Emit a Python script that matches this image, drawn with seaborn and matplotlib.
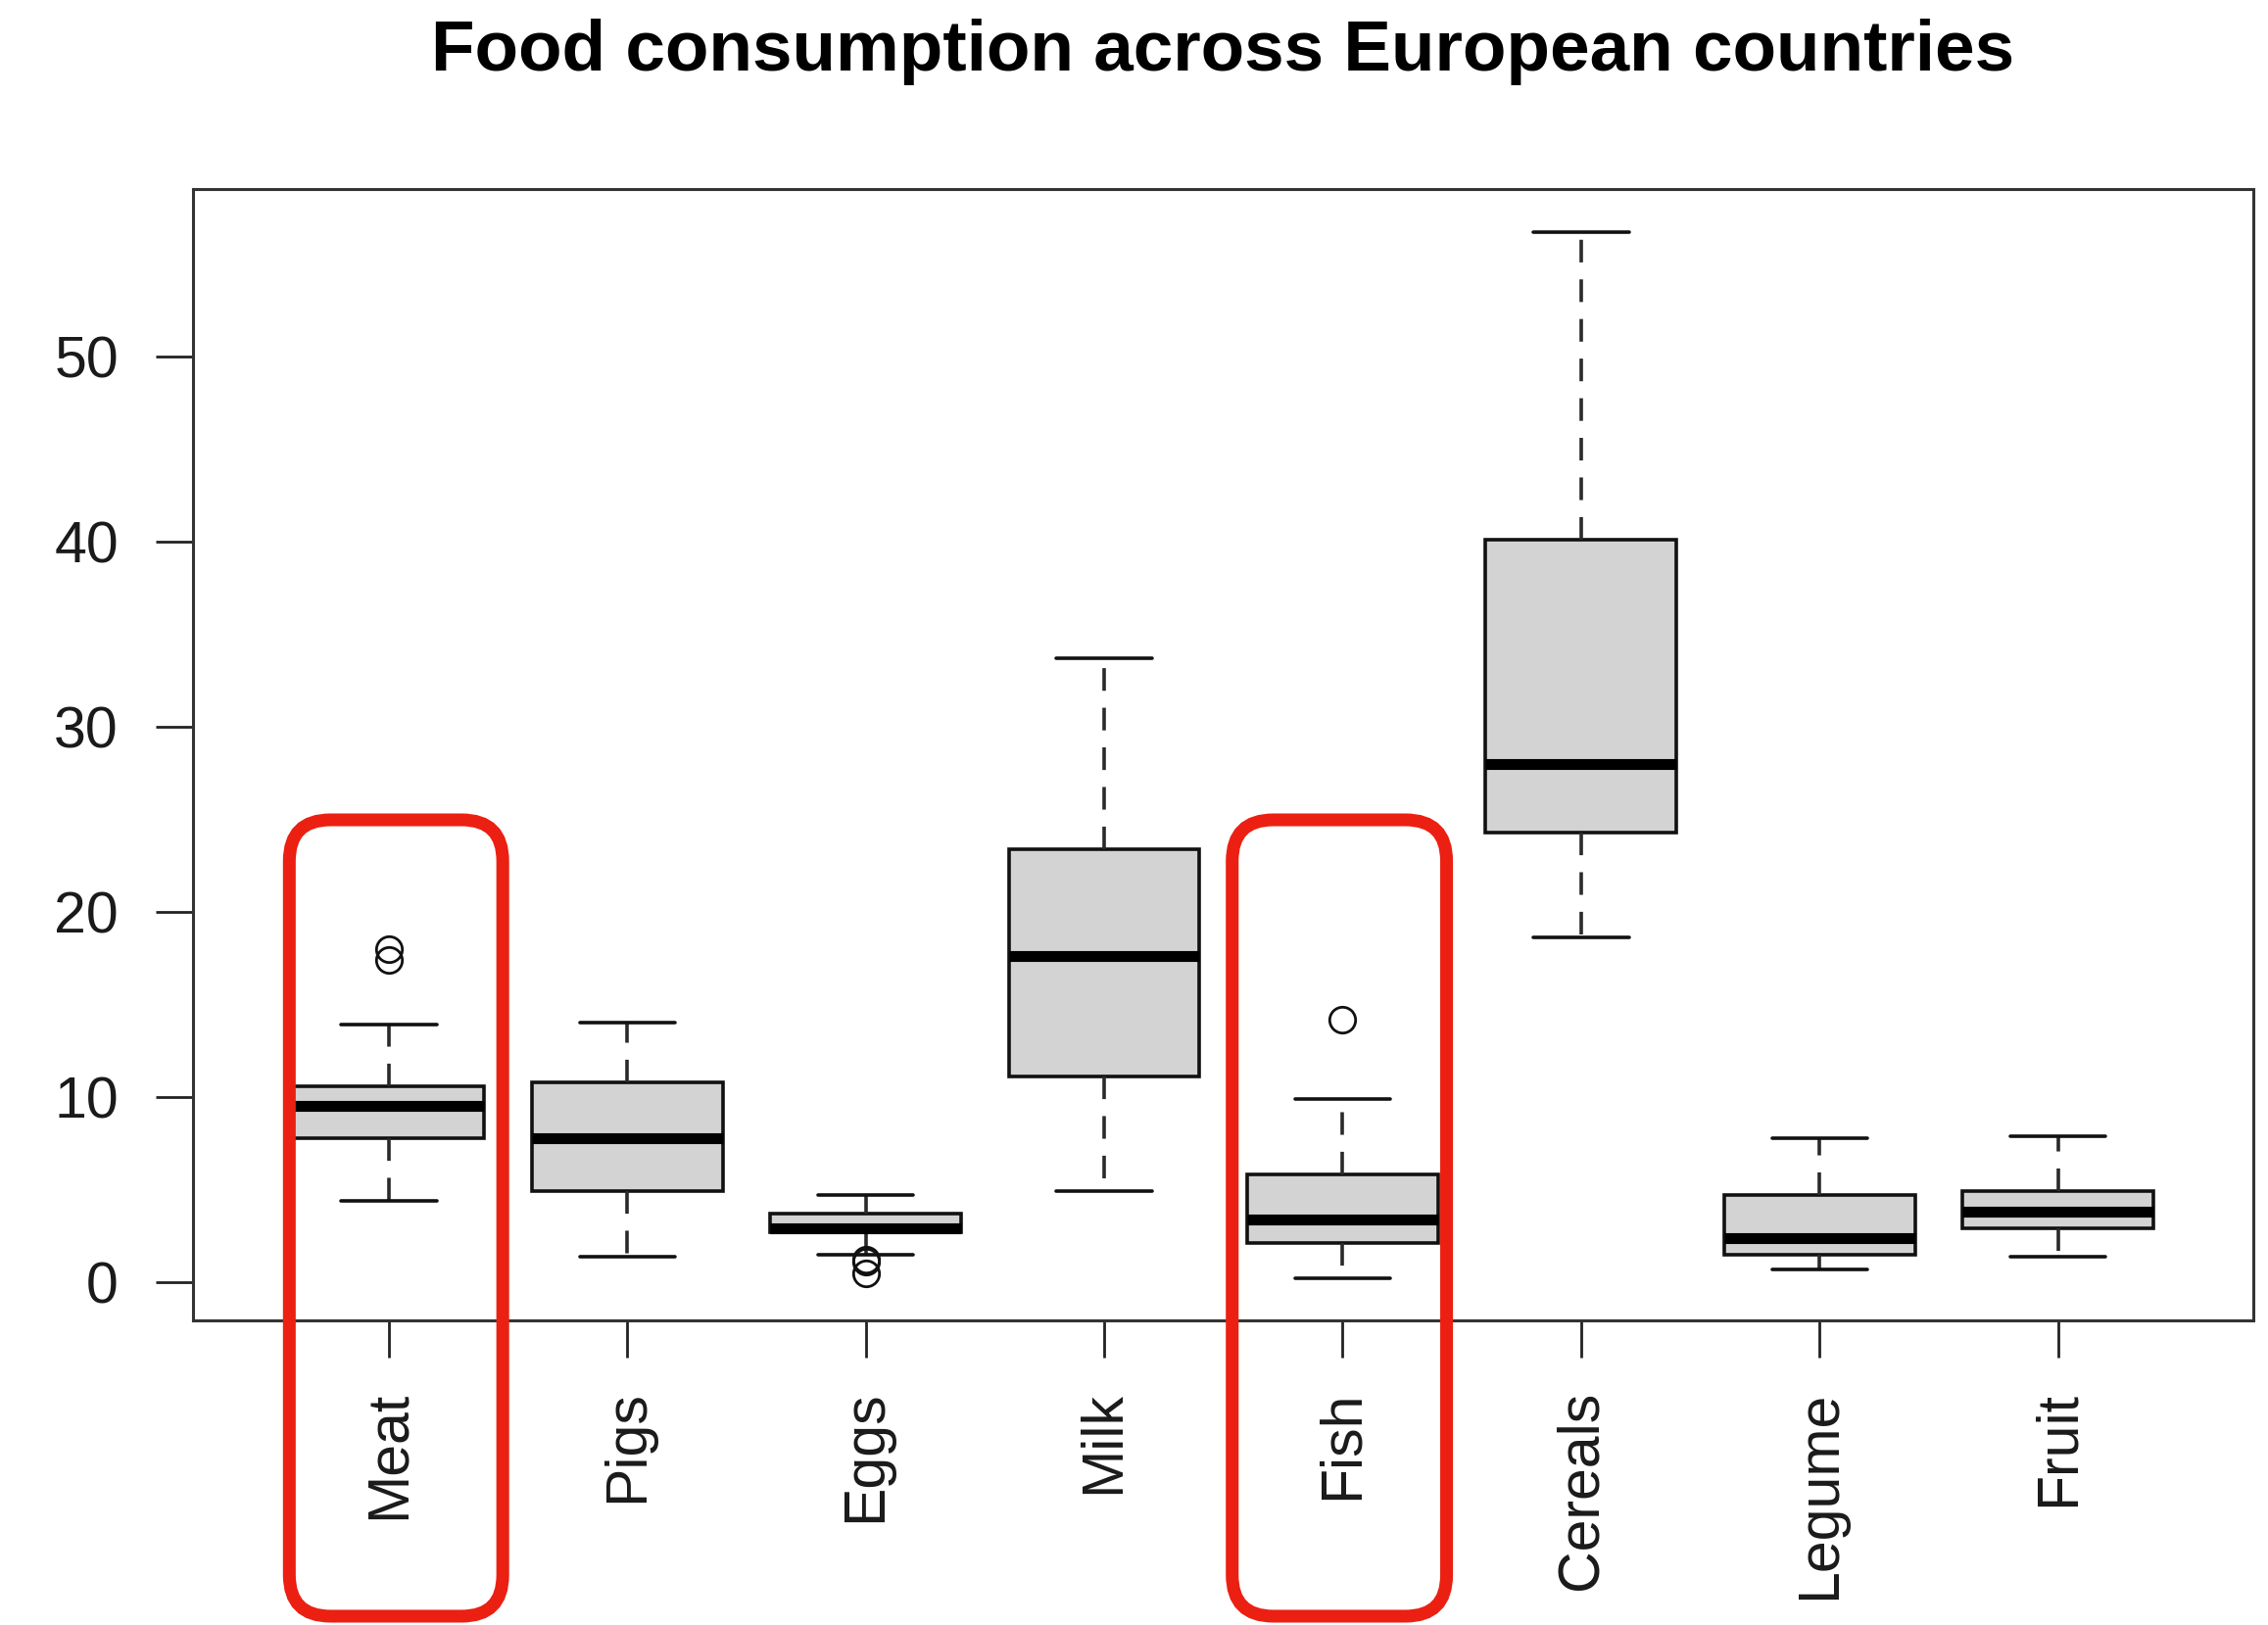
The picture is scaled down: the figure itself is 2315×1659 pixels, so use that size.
import numpy as np
import pandas as pd
import matplotlib
matplotlib.use("Agg")
import matplotlib.pyplot as plt
from matplotlib.patches import FancyBboxPatch
from matplotlib.transforms import IdentityTransform
import seaborn as sns

# Protein sources per country (25 European countries, same country order in each list)
countries = ["Albania", "Austria", "Belgium", "Bulgaria", "Czechoslovakia",
             "Denmark", "E Germany", "Finland", "France", "Greece", "Hungary",
             "Ireland", "Italy", "Netherlands", "Norway", "Poland", "Portugal",
             "Romania", "Spain", "Sweden", "Switzerland", "UK", "USSR",
             "W Germany", "Yugoslavia"]
meat = [10.1, 8.9, 13.5, 7.8, 9.7, 10.6, 8.4, 9.5, 18.0, 10.2, 5.3, 13.9, 9.0,
        9.5, 9.4, 6.9, 6.2, 6.2, 7.1, 9.9, 13.1, 17.4, 9.3, 11.4, 4.4]
pigs = [1.4, 14.0, 9.3, 6.0, 11.4, 10.8, 11.6, 4.9, 9.9, 3.0, 12.4, 10.0, 5.1,
        13.6, 4.7, 10.2, 3.7, 6.3, 3.4, 7.8, 10.1, 5.7, 4.6, 12.5, 5.0]
eggs = [0.5, 4.3, 4.1, 1.6, 2.8, 3.7, 3.7, 2.7, 3.3, 2.8, 2.9, 4.7, 2.9,
        3.6, 2.7, 2.7, 1.1, 1.5, 3.1, 3.5, 3.1, 4.7, 2.1, 4.1, 1.2]
milk = [8.9, 19.9, 17.5, 8.3, 12.5, 25.0, 11.1, 33.7, 19.5, 17.6, 9.7, 25.8,
        13.7, 23.4, 23.4, 19.3, 4.9, 11.1, 8.6, 24.7, 23.8, 20.6, 16.6, 18.8, 9.5]
fish = [0.2, 2.1, 4.5, 1.2, 2.0, 9.9, 5.4, 5.8, 5.7, 5.9, 0.3, 2.2, 3.4,
        2.5, 9.7, 3.0, 14.2, 1.0, 7.0, 7.5, 2.3, 4.3, 3.0, 3.4, 0.6]
cereals = [42.3, 28.0, 26.6, 56.7, 34.3, 21.9, 24.6, 26.3, 28.1, 41.7, 40.1,
           24.0, 36.8, 22.4, 23.0, 36.1, 27.0, 49.6, 29.2, 19.5, 25.6, 24.3,
           43.6, 18.6, 55.9]
legume = [5.5, 1.3, 2.1, 3.7, 1.1, 0.7, 0.8, 1.0, 2.4, 7.8, 5.4, 1.6, 4.3,
          1.8, 1.6, 2.0, 4.7, 5.3, 5.9, 1.4, 2.4, 3.4, 3.4, 1.5, 5.7]
fruit = [1.7, 4.3, 4.0, 4.2, 4.0, 2.4, 3.6, 1.4, 6.5, 6.5, 4.2, 2.9, 6.7,
         3.7, 2.7, 6.6, 7.9, 2.8, 7.2, 2.0, 4.9, 3.3, 2.9, 3.8, 3.2]

foods = ["Meat", "Pigs", "Eggs", "Milk", "Fish", "Cereals", "Legume", "Fruit"]
highlighted = ["Meat", "Fish"]
title = "Food consumption across European countries"

wide = pd.DataFrame({"Country": countries, "Meat": meat, "Pigs": pigs,
                     "Eggs": eggs, "Milk": milk, "Fish": fish,
                     "Cereals": cereals, "Legume": legume, "Fruit": fruit})
long = wide.melt(id_vars="Country", var_name="Food", value_name="Consumption")

sns.set_style("white")
plt.rcParams["font.family"] = ["Liberation Sans", "DejaVu Sans"]

W, H = 2315, 1659
fig = plt.figure(figsize=(W / 100, H / 100), dpi=100)
ax = fig.add_axes([196.5 / W, 1 - 1348 / H, (2299.5 - 196.5) / W, (1348 - 193) / H])

edge = "#111111"
lw = 2.6
sns.boxplot(data=long, x="Food", y="Consumption", order=foods, ax=ax,
            color="#D3D3D3", saturation=1, width=0.8, linecolor=edge,
            linewidth=lw, fliersize=19,
            medianprops=dict(color="black", linewidth=8, solid_capstyle="butt"),
            whiskerprops=dict(linestyle=(0, (6.4, 4.8)), color="#2a2a2a"),
            capprops=dict(color=edge),
            flierprops=dict(marker="o", markerfacecolor="none",
                            markeredgecolor=edge, markeredgewidth=2))

ax.set_xlim(-0.823, 7.817)
ax.set_ylim(-2.063, 59.05)
ax.set_yticks([0, 10, 20, 30, 40, 50])
ax.set_xlabel("")
ax.set_ylabel("")
ax.set_xticks(range(len(foods)))
ax.set_xticklabels(foods, rotation=90)
ax.tick_params(axis="both", which="major", length=27.5, width=2.0,
               color="#222222", labelsize=42.5, labelcolor="#1a1a1a",
               left=True, bottom=True)
ax.tick_params(axis="y", pad=27)
ax.tick_params(axis="x", pad=24)
for sp in ax.spines.values():
    sp.set_visible(True)
    sp.set_color("#333333")
    sp.set_linewidth(2.2)

fig.text(0.5 * (196.5 + 2299.5) / W, 1 - 72 / H, title, ha="center",
         va="baseline", fontsize=52.5, fontweight="bold", color="black")

# Rounded red frames around selected categories, spanning box and label
fig.canvas.draw()
to_px = ax.transData.transform
frames = {"Meat": (-0.417, 0.478), "Fish": (-0.463, 0.436)}
for name in highlighted:
    i = foods.index(name)
    lo, hi = frames[name]
    x0 = to_px((i + lo, 0))[0]
    x1 = to_px((i + hi, 0))[0]
    y_top = H - 837
    y_bot = H - 1650
    patch = FancyBboxPatch((x0, y_bot), x1 - x0, y_top - y_bot,
                           boxstyle="round,pad=0,rounding_size=42",
                           transform=IdentityTransform(), fill=False,
                           edgecolor="#EB2012", linewidth=9.4,
                           clip_on=False, zorder=10)
    fig.add_artist(patch)

fig.savefig("out.png", dpi=100, facecolor="white")
